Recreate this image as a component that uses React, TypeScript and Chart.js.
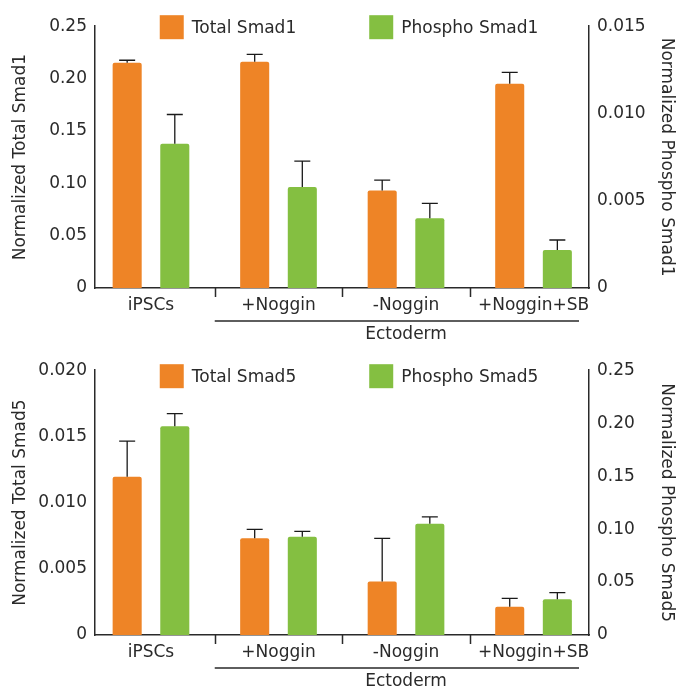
import React, { useEffect, useRef } from "react";
import { Chart, registerables } from "chart.js";

Chart.register(...registerables);

// ---------- data ----------
const categories = ["iPSCs", "+Noggin", "-Noggin", "+Noggin+SB"];
const groupLabel = "Ectoderm";
const groupFirstIndex = 1; // Ectoderm spans categories 1..3

const totalSmad1 = [0.215, 0.216, 0.093, 0.195];
const totalSmad1Err = [0.0025, 0.007, 0.010, 0.011];
const phosphoSmad1 = [0.00827, 0.00579, 0.0040, 0.00218];
const phosphoSmad1Err = [0.00167, 0.00148, 0.00085, 0.00057];

const totalSmad5 = [0.01195, 0.0073, 0.00405, 0.00214];
const totalSmad5Err = [0.0027, 0.00068, 0.00325, 0.00063];
const phosphoSmad5 = [0.197, 0.0927, 0.105, 0.0337];
const phosphoSmad5Err = [0.012, 0.0051, 0.0066, 0.0063];

const smad1LeftTicks = [0, 0.05, 0.1, 0.15, 0.2, 0.25];
const smad1LeftTickLabels = ["0", "0.05", "0.10", "0.15", "0.20", "0.25"];
const smad1RightTicks = [0, 0.005, 0.01, 0.015];
const smad1RightTickLabels = ["0", "0.005", "0.010", "0.015"];

const smad5LeftTicks = [0, 0.005, 0.01, 0.015, 0.02];
const smad5LeftTickLabels = ["0", "0.005", "0.010", "0.015", "0.020"];
const smad5RightTicks = [0, 0.05, 0.1, 0.15, 0.2, 0.25];
const smad5RightTickLabels = ["0", "0.05", "0.10", "0.15", "0.20", "0.25"];

// ---------- style ----------
const FONT = "'DejaVu Sans', sans-serif";
const FONT_SIZE = 17;
const TEXT = "#2a2a2a";
const ORANGE = "#EE8426";
const GREEN = "#84BF41";
const CANVAS_W = 677;
const CANVAS_H = 344;

type Panel = {
  leftTitle: string;
  rightTitle: string;
  totalLabel: string;
  phosphoLabel: string;
  total: number[];
  totalErr: number[];
  phospho: number[];
  phosphoErr: number[];
  leftTicks: number[];
  leftTickLabels: string[];
  rightTicks: number[];
  rightTickLabels: string[];
  padTop: number;
  xHeight: number;
  legendOffset: number;
};

function buildConfig(p: Panel): any {
  const errorBars = {
    id: "errorBars",
    afterDatasetsDraw(chart: any) {
      const ctx = chart.ctx;
      chart.data.datasets.forEach((ds: any, di: number) => {
        const meta = chart.getDatasetMeta(di);
        const ys = chart.scales[ds.yAxisID];
        const errs = di === 0 ? p.totalErr : p.phosphoErr;
        meta.data.forEach((bar: any, i: number) => {
          const v = ds.data[i].y;
          const top = ys.getPixelForValue(v + errs[i]);
          ctx.save();
          ctx.strokeStyle = "#1a1a1a";
          ctx.lineWidth = 1.3;
          ctx.beginPath();
          ctx.moveTo(bar.x, bar.y);
          ctx.lineTo(bar.x, top);
          ctx.moveTo(bar.x - 8, top);
          ctx.lineTo(bar.x + 8, top);
          ctx.stroke();
          ctx.restore();
        });
      });
    },
  };

  const legend = {
    id: "customLegend",
    afterDraw(chart: any) {
      const ctx = chart.ctx;
      ctx.save();
      ctx.font = `${FONT_SIZE}px ${FONT}`;
      const items = chart.data.datasets.map((ds: any) => ({
        label: ds.label,
        color: ds.backgroundColor,
      }));
      const box = 24;
      const gapText = 8;
      const gapItem = 73;
      const widths = items.map((it: any) => box + gapText + ctx.measureText(it.label).width);
      const total = widths.reduce((a: number, b: number) => a + b, 0) + gapItem * (items.length - 1);
      let x = 341 - total / 2;
      const y = chart.chartArea.top + p.legendOffset;
      items.forEach((it: any, i: number) => {
        ctx.fillStyle = it.color;
        ctx.fillRect(x, y, box, box);
        ctx.fillStyle = TEXT;
        ctx.textBaseline = "middle";
        ctx.textAlign = "left";
        ctx.fillText(it.label, x + box + gapText, y + box / 2 + 1);
        x += widths[i] + gapItem;
      });
      ctx.restore();
    },
  };

  const bracket = {
    id: "bracket",
    afterDraw(chart: any) {
      const ctx = chart.ctx;
      const xs = chart.scales.x;
      const { bottom, right } = chart.chartArea;
      ctx.save();
      ctx.strokeStyle = TEXT;
      ctx.lineWidth = 1.5;
      ctx.beginPath();
      for (let i = 0; i < categories.length - 1; i++) {
        const bx = Math.round(xs.getPixelForValue(i + 0.5)) + 0.5;
        ctx.moveTo(bx, bottom);
        ctx.lineTo(bx, bottom + 9);
      }
      const start = xs.getPixelForValue(groupFirstIndex - 0.5);
      const y = bottom + 33;
      ctx.moveTo(start, y);
      ctx.lineTo(right - 10, y);
      ctx.stroke();
      ctx.font = `${FONT_SIZE}px ${FONT}`;
      ctx.fillStyle = TEXT;
      ctx.textAlign = "center";
      ctx.textBaseline = "middle";
      ctx.fillText(groupLabel, xs.getPixelForValue(2), bottom + 47);
      ctx.restore();
    },
  };

  const font = { family: FONT, size: FONT_SIZE };

  return {
    type: "bar",
    data: {
      datasets: [
        {
          label: p.totalLabel,
          data: p.total.map((v, i) => ({ x: i, y: v })),
          backgroundColor: ORANGE,
          yAxisID: "yL",
          borderRadius: 2,
          borderSkipped: "bottom",
          categoryPercentage: 0.747,
          barPercentage: 0.61,
        },
        {
          label: p.phosphoLabel,
          data: p.phospho.map((v, i) => ({ x: i, y: v })),
          backgroundColor: GREEN,
          yAxisID: "yR",
          borderRadius: 2,
          borderSkipped: "bottom",
          categoryPercentage: 0.747,
          barPercentage: 0.61,
        },
      ],
    },
    options: {
      responsive: false,
      animation: false,
      layout: { padding: { top: p.padTop, left: 0, right: 0, bottom: 0 } },
      plugins: {
        legend: { display: false },
        tooltip: { enabled: false },
      },
      scales: {
        x: {
          type: "linear",
          offset: false,
          min: -0.439,
          max: 3.435,
          grid: { display: false, drawTicks: false, offset: false },
          border: { display: true, color: TEXT, width: 1.5 },
          ticks: {
            color: TEXT,
            font,
            padding: 7,
            autoSkip: false,
            maxRotation: 0,
            callback: (v: number) => categories[v] ?? "",
          },
          afterBuildTicks: (s: any) => {
            s.ticks = categories.map((_, i) => ({ value: i }));
          },
          afterFit: (s: any) => {
            s.height = p.xHeight;
          },
        },
        yL: {
          type: "linear",
          position: "left",
          min: 0,
          max: p.leftTicks[p.leftTicks.length - 1],
          grid: { display: false, drawTicks: false },
          border: { display: true, color: TEXT, width: 1.5 },
          ticks: {
            color: TEXT,
            font,
            padding: 8,
            callback: (_v: number, idx: number) => p.leftTickLabels[idx],
          },
          afterBuildTicks: (s: any) => {
            s.ticks = p.leftTicks.map((v) => ({ value: v }));
          },
          title: {
            display: true,
            text: p.leftTitle,
            color: TEXT,
            font,
            padding: { top: 2.5, bottom: 0 },
          },
          afterFit: (s: any) => {
            s.width = 87;
          },
        },
        yR: {
          type: "linear",
          position: "right",
          min: 0,
          max: p.rightTicks[p.rightTicks.length - 1],
          grid: { display: false, drawTicks: false },
          border: { display: true, color: TEXT, width: 1.5 },
          ticks: {
            color: TEXT,
            font,
            padding: 8,
            callback: (_v: number, idx: number) => p.rightTickLabels[idx],
          },
          afterBuildTicks: (s: any) => {
            s.ticks = p.rightTicks.map((v) => ({ value: v }));
          },
          title: {
            display: true,
            text: p.rightTitle,
            color: TEXT,
            font,
            padding: { top: 8, bottom: 0 },
          },
          afterFit: (s: any) => {
            s.width = 96;
          },
        },
      },
    },
    plugins: [errorBars, legend, bracket],
  };
}

const panels: Panel[] = [
  {
    leftTitle: "Normalized Total Smad1",
    rightTitle: "Normalized Phospho Smad1",
    totalLabel: "Total Smad1",
    phosphoLabel: "Phospho Smad1",
    total: totalSmad1,
    totalErr: totalSmad1Err,
    phospho: phosphoSmad1,
    phosphoErr: phosphoSmad1Err,
    leftTicks: smad1LeftTicks,
    leftTickLabels: smad1LeftTickLabels,
    rightTicks: smad1RightTicks,
    rightTickLabels: smad1RightTickLabels,
    padTop: 14,
    xHeight: 64,
    legendOffset: -11,
  },
  {
    leftTitle: "Normalized Total Smad5",
    rightTitle: "Normalized Phospho Smad5",
    totalLabel: "Total Smad5",
    phosphoLabel: "Phospho Smad5",
    total: totalSmad5,
    totalErr: totalSmad5Err,
    phospho: phosphoSmad5,
    phosphoErr: phosphoSmad5Err,
    leftTicks: smad5LeftTicks,
    leftTickLabels: smad5LeftTickLabels,
    rightTicks: smad5RightTicks,
    rightTickLabels: smad5RightTickLabels,
    padTop: 18,
    xHeight: 61,
    legendOffset: -6,
  },
];

function PanelChart({ panel }: { panel: Panel }) {
  const ref = useRef<HTMLCanvasElement | null>(null);
  useEffect(() => {
    if (!ref.current) return;
    const chart = new Chart(ref.current, buildConfig(panel));
    return () => chart.destroy();
  }, [panel]);
  return (
    <canvas
      ref={ref}
      width={CANVAS_W}
      height={CANVAS_H}
      style={{ display: "block", width: CANVAS_W, height: CANVAS_H }}
    />
  );
}

export default function App() {
  return (
    <div style={{ width: CANVAS_W }}>
      {panels.map((p, i) => (
        <PanelChart key={i} panel={p} />
      ))}
    </div>
  );
}
